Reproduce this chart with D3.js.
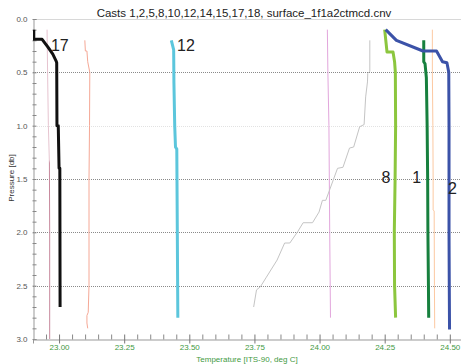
<!DOCTYPE html>
<html><head><meta charset="utf-8">
<script src="https://cdn.jsdelivr.net/npm/d3@7"></script>
<style>body{margin:0;background:#fff}svg{display:block;font-family:"Liberation Sans",Arial,sans-serif}</style>
</head><body><svg id="c" width="461" height="364"></svg>
<script>
// ---- data: [temperature degC, pressure db] per cast ----
const cast17 = [[22.903,0.10],[22.903,0.19],[22.935,0.19],[22.956,0.26],[22.976,0.33],[22.988,0.39],[22.991,0.41],[22.992,1.0],[22.997,1.0],[23.000,1.4],[23.003,1.4],[23.004,2.7]];
const cast12 = [[23.431,0.20],[23.440,0.29],[23.441,0.6],[23.444,1.0],[23.447,1.2],[23.452,1.22],[23.454,2.0],[23.456,2.8]];
const cast8  = [[24.250,0.10],[24.259,0.31],[24.282,0.31],[24.288,0.40],[24.291,0.50],[24.292,1.0],[24.290,1.5],[24.287,2.0],[24.288,2.5],[24.292,2.8]];
const cast1  = [[24.400,0.20],[24.400,0.40],[24.405,0.42],[24.410,0.55],[24.413,1.0],[24.415,1.5],[24.416,2.0],[24.418,2.5],[24.419,2.8]];
const cast2  = [[24.254,0.10],[24.295,0.20],[24.397,0.30],[24.449,0.30],[24.472,0.40],[24.489,0.41],[24.496,0.50],[24.497,1.0],[24.497,2.0],[24.498,2.5],[24.499,2.91]];
const cast5  = [[22.954,0.10],[22.956,0.5],[22.959,1.0],[22.963,1.35],[22.964,2.0],[22.964,3.0]];
const cast10 = [[23.099,0.20],[23.101,0.30],[23.107,0.30],[23.110,0.40],[23.118,0.50],[23.117,1.0],[23.115,1.5],[23.115,2.5],[23.112,2.75],[23.107,2.78],[23.107,2.85],[23.110,2.90]];
const cast14 = [[24.030,0.10],[24.032,0.5],[24.036,1.0],[24.039,2.0],[24.042,2.8]];
const cast15 = [[24.193,0.20],[24.193,0.49],[24.185,0.51],[24.184,0.59],[24.177,0.73],[24.171,0.99],[24.154,1.01],[24.131,1.20],[24.115,1.21],[24.090,1.39],[24.069,1.40],[24.039,1.60],[24.024,1.70],[24.011,1.70],[23.998,1.81],[23.973,1.91],[23.937,1.91],[23.917,1.99],[23.886,2.10],[23.866,2.10],[23.837,2.26],[23.796,2.42],[23.773,2.51],[23.758,2.54],[23.747,2.70]];
const cast18 = [[24.433,0.10],[24.433,0.5],[24.435,1.0],[24.436,1.5],[24.436,1.79],[24.440,1.80],[24.441,2.5],[24.442,2.9]];

const casts = [
  {name:"5",  data:cast5,  color:"#cf98aa", w:1},
  {name:"10", data:cast10, color:"#f5a896", w:1},
  {name:"14", data:cast14, color:"#e2a6dc", w:1},
  {name:"15", data:cast15, color:"#c4c4c4", w:1},
  {name:"18", data:cast18, color:"#fcc9a2", w:1},
  {name:"17", data:cast17, color:"#111111", w:3},
  {name:"12", data:cast12, color:"#5cc6dc", w:3},
  {name:"8",  data:cast8,  color:"#8cc63e", w:3},
  {name:"1",  data:cast1,  color:"#17803e", w:3},
  {name:"2",  data:cast2,  color:"#3b52a8", w:3}
];
const labels = [
  {text:"17", t:22.969, p:0.30, anchor:"start"},
  {text:"12", t:23.453, p:0.30, anchor:"start"},
  {text:"8",  t:24.272, p:1.535, anchor:"end"},
  {text:"1",  t:24.390, p:1.535, anchor:"end"},
  {text:"2",  t:24.493, p:1.64, anchor:"start"}
];
const title = "Casts 1,2,5,8,10,12,14,15,17,18, surface_1f1a2ctmcd.cnv";
const xTitle = "Temperature [ITS-90, deg C]";
const yTitle = "Pressure [db]";
const xMajor = [23.00, 23.25, 23.50, 23.75, 24.00, 24.25, 24.50];
const yMajor = [0.0, 0.5, 1.0, 1.5, 2.0, 2.5, 3.0];

// ---- layout ----
const svg = d3.select("#c");
const L = 33, R = 461, T = 19, B = 339;
const x = d3.scaleLinear().domain([22.9, 24.543]).range([L, R]);
const y = d3.scaleLinear().domain([0, 3]).range([T, B]);

svg.append("rect").attr("width",461).attr("height",364).attr("fill","#fff");

// top border
svg.append("line").attr("x1",L).attr("x2",R).attr("y1",T+0.5).attr("y2",T+0.5).attr("stroke","#d8d8d8");

// gridlines
yMajor.filter(v => v>0 && v<3).forEach(v => {
  svg.append("line").attr("x1",L).attr("x2",R).attr("y1",Math.round(y(v))+0.5).attr("y2",Math.round(y(v))+0.5)
    .attr("stroke", v===1.0 ? "#e2e2e2" : "#8a8a8a").attr("stroke-dasharray","1,1");
});

// y axis
const yAxis = d3.axisLeft(y).tickValues(yMajor).tickFormat(d3.format(".1f")).tickSize(-3).tickPadding(6);
const gy = svg.append("g").attr("transform",`translate(${L+0.5},0)`).call(yAxis);
gy.select(".domain").attr("stroke","#999");
gy.selectAll(".tick line").attr("stroke","#888").attr("x1",-1);
gy.selectAll("text").attr("font-size","8px").attr("fill","#555");
const yMinor = d3.range(0, 3.01, 0.1).filter(v => Math.abs(v*2 - Math.round(v*2)) > 1e-6);
svg.append("g").attr("transform",`translate(${L+0.5},0)`).call(d3.axisLeft(y).tickValues(yMinor).tickSize(-3).tickFormat(""))
  .call(g => { g.select(".domain").remove(); g.selectAll(".tick line").attr("stroke","#888").attr("x1",-1); });

// x axis
const xAxis = d3.axisBottom(x).tickValues(xMajor).tickFormat(d3.format(".2f")).tickSize(4).tickPadding(1);
const gx = svg.append("g").attr("transform",`translate(0,${B+0.5})`).call(xAxis);
gx.select(".domain").attr("stroke","#999");
gx.selectAll(".tick line").attr("stroke","#777").attr("y1",-5);
gx.selectAll("text").attr("font-size","8px").attr("fill","#3f9a3f");
const xMinor = d3.range(22.95, 24.54, 0.05).filter(v => !xMajor.some(m => Math.abs(m-v) < 1e-6));
svg.append("g").attr("transform",`translate(0,${B+0.5})`).call(d3.axisBottom(x).tickValues(xMinor).tickSize(-5).tickFormat(""))
  .call(g => { g.select(".domain").remove(); g.selectAll(".tick line").attr("stroke","#888"); });

// clip
svg.append("clipPath").attr("id","clip").append("rect").attr("x",L).attr("y",T-5).attr("width",R-L).attr("height",B-T+5);

// rosy gradient for cast 5
const grad = svg.append("defs").append("linearGradient").attr("id","g5").attr("gradientUnits","userSpaceOnUse")
  .attr("x1",0).attr("x2",0).attr("y1",y(0)).attr("y2",y(3));
grad.append("stop").attr("offset","0%").attr("stop-color","#e6c2cf");
grad.append("stop").attr("offset","44%").attr("stop-color","#e6c4cf");
grad.append("stop").attr("offset","45%").attr("stop-color","#c7889c");
grad.append("stop").attr("offset","100%").attr("stop-color","#c7889c");

const line = d3.line().x(d => x(d[0])).y(d => y(d[1]));
const gl = svg.append("g").attr("clip-path","url(#clip)");
casts.forEach(c => {
  gl.append("path").datum(c.data).attr("d", line).attr("fill","none")
    .attr("stroke", c.name==="5" ? "url(#g5)" : c.color)
    .attr("stroke-width", c.w).attr("stroke-linejoin","round");
});

// labels
labels.forEach(l => {
  svg.append("text").attr("x", x(l.t)).attr("y", y(l.p)).attr("text-anchor", l.anchor)
    .attr("font-size","16px").attr("fill","#222").text(l.text);
});

// titles
svg.append("text").attr("x",244).attr("y",17).attr("text-anchor","middle").attr("font-size","11.5px").attr("fill","#222").text(title);
svg.append("text").attr("x",247).attr("y",361.5).attr("text-anchor","middle").attr("font-size","8px").attr("fill","#3f9a3f").text(xTitle);
svg.append("text").attr("transform","translate(14,178) rotate(-90)").attr("text-anchor","middle").attr("font-size","8px").attr("fill","#333").text(yTitle);
</script></body></html>
